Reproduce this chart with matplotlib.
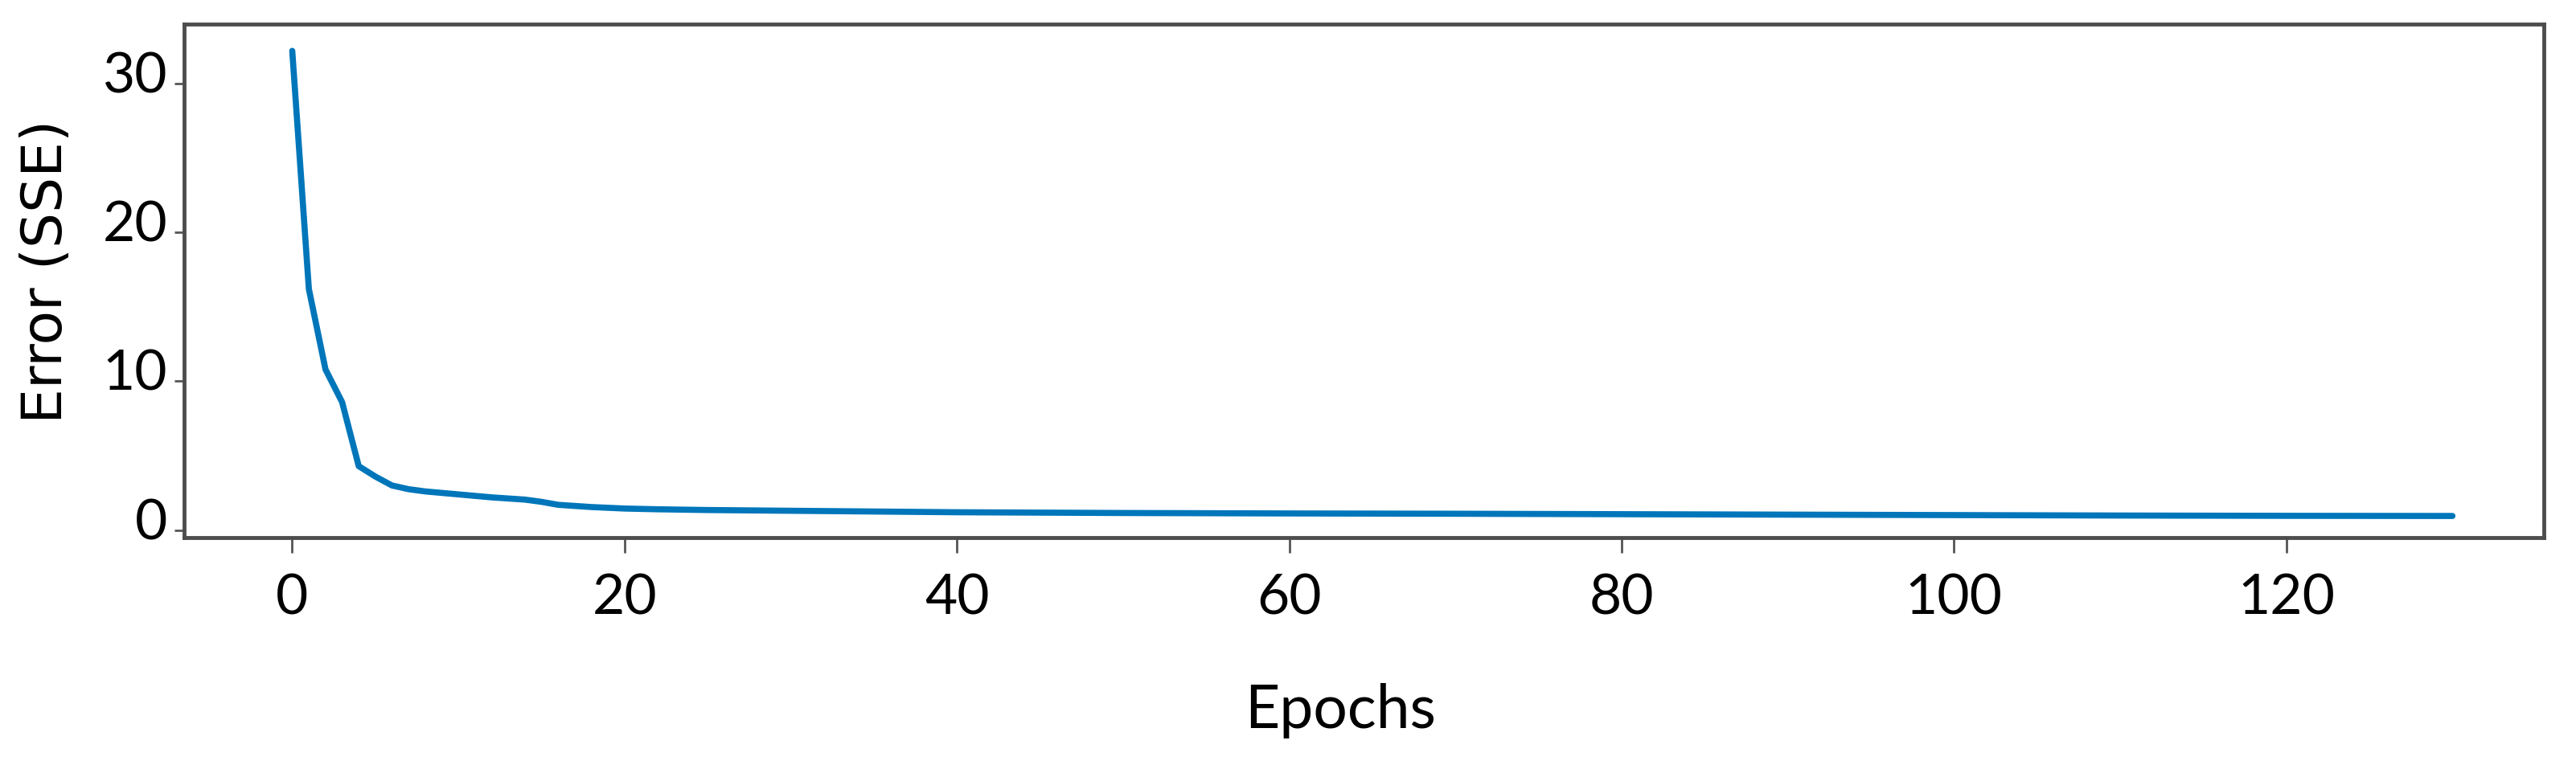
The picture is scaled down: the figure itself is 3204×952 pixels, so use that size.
import matplotlib
matplotlib.use('Agg')
import matplotlib.pyplot as plt
import matplotlib.transforms as mtransforms

# training error (SSE) per epoch
epochs = [0, 1, 2, 3, 4, 5, 6, 7, 8, 10, 12, 14, 15, 16, 18, 20, 22, 25,
          30, 35, 40, 50, 60, 70, 80, 90, 100, 110, 120, 130]
sse = [32.2, 16.2, 10.8, 8.6, 4.3, 3.6, 3.0, 2.75, 2.6, 2.4, 2.2, 2.05,
       1.9, 1.7, 1.55, 1.45, 1.4, 1.35, 1.3, 1.25, 1.2, 1.15, 1.12, 1.1,
       1.07, 1.04, 1.01, 0.98, 0.96, 0.95]
xticks = [0, 20, 40, 60, 80, 100, 120]
yticks = [0, 10, 20, 30]

fig = plt.figure(figsize=(32.05, 9.53), dpi=100)
ax = fig.add_axes([0.0715, 0.297, 0.9157, 0.6705])

ax.plot(epochs, sse, color='#0076ba', linewidth=5.5, solid_capstyle='round')

ax.set_xlim(-6.5, 135.5)
ax.set_ylim(-0.5, 34)
ax.set_xticks(xticks)
ax.set_yticks(yticks)

tick_font = ['Lato', 'DejaVu Sans']
for lbl in ax.get_xticklabels() + ax.get_yticklabels():
    lbl.set_family(tick_font)
    lbl.set_fontsize(50)

ax.tick_params(axis='x', direction='out', length=14, width=2,
               color='#555555', pad=17)
ax.tick_params(axis='y', direction='out', length=9, width=2,
               color='#555555', pad=6)

# y labels sit a little above their ticks in the original
shift = mtransforms.ScaledTranslation(0, 0.15, fig.dpi_scale_trans)
for lbl in ax.get_yticklabels():
    lbl.set_transform(lbl.get_transform() + shift)

for s in ax.spines.values():
    s.set_color('#4d4d4d')
    s.set_linewidth(3.5)

ax.set_xlabel('Epochs', family=tick_font, fontsize=54)
ax.xaxis.label.set_va('center')
ax.xaxis.set_label_coords(0.49, -0.335)

ax.set_ylabel('Error (SSE)', family=['DejaVu Sans'], fontsize=50)
ax.yaxis.label.set_va('center')
ax.yaxis.set_label_coords(-0.0586, 0.52)

fig.savefig('out.png', dpi=100)
